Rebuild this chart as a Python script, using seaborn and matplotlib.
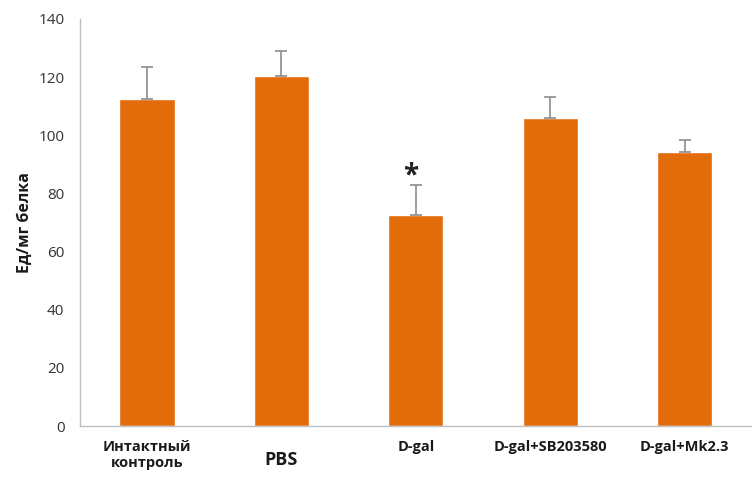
import matplotlib
matplotlib.use("Agg")
import matplotlib.pyplot as plt
import numpy as np
import pandas as pd
import seaborn as sns

groups = ["Интактный\nконтроль", "PBS", "D-gal", "D-gal+SB203580", "D-gal+Mk2.3"]
values = [112.5, 120.5, 72.5, 105.8, 94.3]
errors = [11.0, 8.5, 10.3, 7.4, 4.2]
star_group = "D-gal"
star_y = 81

BAR_COLOR = "#E36C0A"
AXIS_COLOR = "#BFBFBF"

sns.set_style("white")
plt.rcParams["font.family"] = ["Open Sans", "DejaVu Sans"]

df = pd.DataFrame({"group": groups, "value": values, "err": errors})

fig = plt.figure(figsize=(7.52, 4.83), dpi=100)
ax = fig.add_axes([0.106, 0.118, 0.894, 0.843])

sns.barplot(data=df, x="group", y="value", color=BAR_COLOR, saturation=1,
            width=0.41, errorbar=None, ax=ax)
ax.errorbar(np.arange(len(groups)), df["value"],
            yerr=[np.zeros(len(groups)), df["err"]],
            fmt="none", ecolor="#8C8C8C", elinewidth=1.2, capsize=4, capthick=1.2)

ax.text(groups.index(star_group) - 0.04, star_y, "*", ha="center", va="bottom",
        fontsize=20, fontweight="bold", color="#222222")

ax.set_ylim(0, 140)
ax.set_yticks(np.arange(0, 141, 20))
ax.set_xlim(-0.5, 4.44)
ax.set_ylabel("Ед/мг белка", fontsize=11.5, fontweight="bold", color="#1a1a1a")
ax.set_xlabel("")

sns.despine(ax=ax)
for side in ["left", "bottom"]:
    ax.spines[side].set_color(AXIS_COLOR)
    ax.spines[side].set_linewidth(1)

ax.tick_params(axis="y", which="major", direction="out", length=5, color=AXIS_COLOR,
               labelsize=11, labelcolor="#333333", pad=6)
ax.set_xticks(np.arange(-0.5, 5, 1.0), minor=True)
ax.tick_params(axis="x", which="minor", direction="out", length=5, color=AXIS_COLOR)
ax.tick_params(axis="x", which="major", length=0, pad=10, labelcolor="#1a1a1a")
for lab in ax.get_xticklabels():
    lab.set_fontweight("bold")
    if lab.get_text() == "PBS":
        lab.set_fontsize(13)
        lab.set_va("center")
        lab.set_y(-0.05)
    else:
        lab.set_fontsize(10.5)

fig.savefig("out.png", dpi=100)
